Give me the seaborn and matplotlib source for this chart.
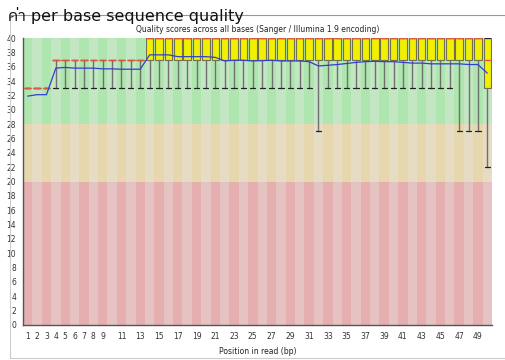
import matplotlib
matplotlib.use("Agg")
import matplotlib.pyplot as plt
import seaborn as sns
import numpy as np
import pandas as pd
from matplotlib import font_manager
from matplotlib.lines import Line2D

# ---------------- data ----------------
positions = list(range(1, 51))
lower_whisker = [33, 33, 33] + [33] * 10 + [33] * 18 + [27] + [33] * 14 + [27, 27, 27] + [22]
q1 = [33, 33, 33] + [37] * 10 + [37] * 36 + [33]
medians = [33, 33, 33] + [37] * 10 + [40] * 36 + [37]
q3 = [33, 33, 33] + [37] * 10 + [40] * 36 + [40]
upper_whisker = [33, 33, 33] + [37] * 10 + [40] * 36 + [40]
means = [31.9, 32.1, 32.1, 35.8, 35.9, 35.8, 35.8, 35.8, 35.7, 35.7,
         35.65, 35.65, 35.65, 37.65, 37.65, 37.65, 37.4, 37.4, 37.4, 37.4,
         37.3, 36.8, 36.9, 36.9, 36.8, 36.85, 36.9, 36.8, 36.8, 36.8,
         36.7, 36.1, 36.2, 36.3, 36.45, 36.6, 36.7, 36.75, 36.7, 36.7,
         36.6, 36.5, 36.5, 36.4, 36.4, 36.4, 36.4, 36.3, 36.3, 35.1]
tick_labels = ["1", "2", "3", "4", "5", "6", "7", "8", "9"] + [str(v) for v in range(11, 50, 2)]
tick_positions = list(range(1, 10)) + list(range(11, 50, 2))
zones = [(0, 20, "#e6afaf", "#e6c3c3"), (20, 28, "#e6d7af", "#e6dcc3"), (28, 40, "#afe6af", "#c3e6c3")]

main_title = "ค่า per base sequence quality"
plot_title = "Quality scores across all bases (Sanger / Illumina 1.9 encoding)"
xlabel = "Position in read (bp)"

# ---------------- font for Thai ----------------
thai_font = None
try:
    from fontTools.ttLib import TTFont
    for fe in font_manager.fontManager.ttflist:
        try:
            f = TTFont(fe.fname, fontNumber=0, lazy=True)
            cmap = f.getBestCmap()
            if cmap and 0x0E04 in cmap and 0x0E48 in cmap:
                thai_font = fe.name
                if "Sans" in fe.name:
                    break
        except Exception:
            continue
except Exception:
    pass

sns.set_style("white")
fam = ["DejaVu Sans"]
if thai_font:
    fam = ["DejaVu Sans", thai_font]
plt.rcParams["font.family"] = fam

fig = plt.figure(figsize=(5.05, 3.6), dpi=100)
ax = fig.add_axes([23 / 505, 35 / 360, 469 / 505, 287 / 360])

# background stripes
for lo, hi, dark, light in zones:
    cols = [dark if p % 2 == 1 else light for p in positions]
    ax.bar(positions, [hi - lo] * len(positions), bottom=lo, width=1.0,
           color=cols, linewidth=0, zorder=0)

# boxes
stats = []
for i in range(len(positions)):
    stats.append(dict(whislo=lower_whisker[i], q1=q1[i], med=medians[i],
                      q3=q3[i], whishi=upper_whisker[i], fliers=[]))
ax.bxp(stats, positions=positions, widths=0.8, patch_artist=True,
       showfliers=False, manage_ticks=False,
       boxprops=dict(facecolor="#f0f000", edgecolor="#707050", linewidth=0.8),
       medianprops=dict(color="#e05a3c", linewidth=1.0),
       whiskerprops=dict(color="#707070", linewidth=1.0),
       capprops=dict(color="#202020", linewidth=0.9),
       capwidths=0.55, zorder=2)

# mean line
df = pd.DataFrame({"pos": positions, "mean": means})
sns.lineplot(data=df, x="pos", y="mean", ax=ax, color="#3040d0", linewidth=0.9, zorder=3)

ax.set_xlim(0.5, 50.5)
ax.set_ylim(0, 40)
ax.set_yticks(range(0, 41, 2))
ax.set_yticklabels([str(v) for v in range(0, 41, 2)], fontsize=5.5, color="#333333")
ax.set_xticks(tick_positions)
ax.set_xticklabels(tick_labels, fontsize=5.5, color="#333333")
ax.tick_params(axis="both", length=0, pad=5)
ax.set_xlabel(xlabel, fontsize=5.5, color="#222222", labelpad=3)
ax.xaxis.set_label_coords(0.5, -0.075)
ax.set_ylabel("")
ax.set_title(plot_title, fontsize=5.5, color="#222222", pad=4)
for s in ["top", "right"]:
    ax.spines[s].set_visible(False)
for s in ["left", "bottom"]:
    ax.spines[s].set_color("#555555")
    ax.spines[s].set_linewidth(1.0)

# page frame lines and heading
fig.add_artist(Line2D([10 / 505, 1.0], [1 - 15 / 360, 1 - 15 / 360], color="#999999", linewidth=0.8))
fig.add_artist(Line2D([10 / 505, 10 / 505], [2 / 360, 1 - 15 / 360], color="#cccccc", linewidth=0.8))
fig.add_artist(Line2D([10 / 505, 1.0], [2 / 360, 2 / 360], color="#cccccc", linewidth=0.8))
fig.text(8 / 505, 1 - 20.5 / 360, main_title, fontsize=11.5, color="#111111", va="baseline", ha="left")

fig.savefig("out.png", dpi=100)
